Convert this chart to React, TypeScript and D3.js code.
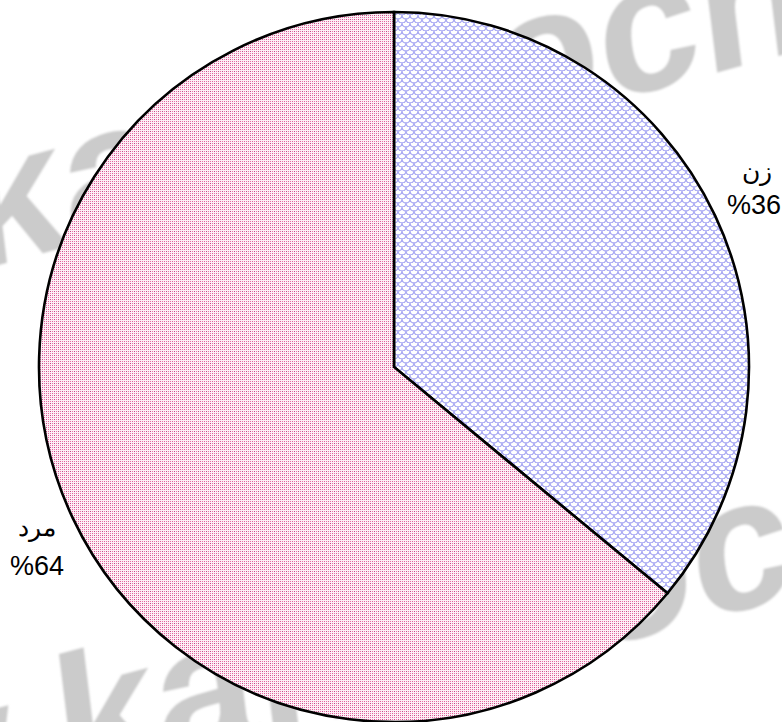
import React from "react";
import * as d3 from "d3";

const categories = ["زن", "مرد"];
const values = [36, 64];
const labels = ["%36", "%64"];
const watermark = "www.kandoocn.com";

const W = 782;
const H = 722;

export default function App() {
  const cx = 394;
  const cy = 367;
  const r = 355;
  const pie = d3.pie<number>().sort(null).startAngle(0).endAngle(2 * Math.PI);
  const arcs = pie(values);
  const arcGen = d3.arc<d3.PieArcDatum<number>>().innerRadius(0).outerRadius(r);
  const fills = ["url(#scales)", "url(#dots)"];
  const labelPos = [
    { x: 757, y1: 180, y2: 214 },
    { x: 37, y1: 536, y2: 575 },
  ];
  return (
    <svg width={W} height={H} style={{ position: "absolute", left: 0, top: 0, background: "#fff" }}>
      <defs>
        <pattern id="dots" width={4} height={4} patternUnits="userSpaceOnUse">
          <rect width={4} height={4} fill="#fcf0f6" />
          <rect x={0} y={0} width={1} height={1} fill="#c04c86" />
          <rect x={2} y={2} width={1} height={1} fill="#e0609a" />
          <rect x={2} y={0} width={1} height={1} fill="#f070aa" />
          <rect x={0} y={2} width={1} height={1} fill="#f070aa" />
        </pattern>
        <pattern id="scales" width={8} height={8} patternUnits="userSpaceOnUse">
          <rect width={8} height={8} fill="#fff" />
          <path d="M0,0 A4,4 0 0,0 8,0 M-4,4 A4,4 0 0,0 4,4 M4,4 A4,4 0 0,0 12,4 M0,8 A4,4 0 0,0 8,8" fill="none" stroke="#a4a4f2" strokeWidth={1.3} />
        </pattern>
        <filter id="soft" x="-10%" y="-10%" width="120%" height="120%">
          <feGaussianBlur stdDeviation="1.2" />
        </filter>
      </defs>
      <g fill="#cbcbcb" fontFamily="Liberation Sans, Arial, sans-serif" fontWeight="bold" fontSize={185} filter="url(#soft)">
        <text transform="translate(-490,396) rotate(-15) skewX(-8)">{watermark}</text>
        <text transform="translate(-397,915) rotate(-15) skewX(-8)">{watermark}</text>
      </g>
      <g transform={`translate(${cx},${cy})`}>
        {arcs.map((a, i) => (
          <path key={categories[i]} d={arcGen(a) || ""} fill={fills[i]} stroke="#000" strokeWidth={2.6} strokeLinejoin="miter" />
        ))}
      </g>
      <g fontFamily="Liberation Sans, Arial, sans-serif" fill="#000" textAnchor="middle">
        {categories.map((c, i) => (
          <g key={c}>
            <text x={labelPos[i].x} y={labelPos[i].y1} fontSize={25}>{c}</text>
            <text x={i === 0 ? 754 : 37} y={labelPos[i].y2} fontSize={27}>{labels[i]}</text>
          </g>
        ))}
      </g>
    </svg>
  );
}
